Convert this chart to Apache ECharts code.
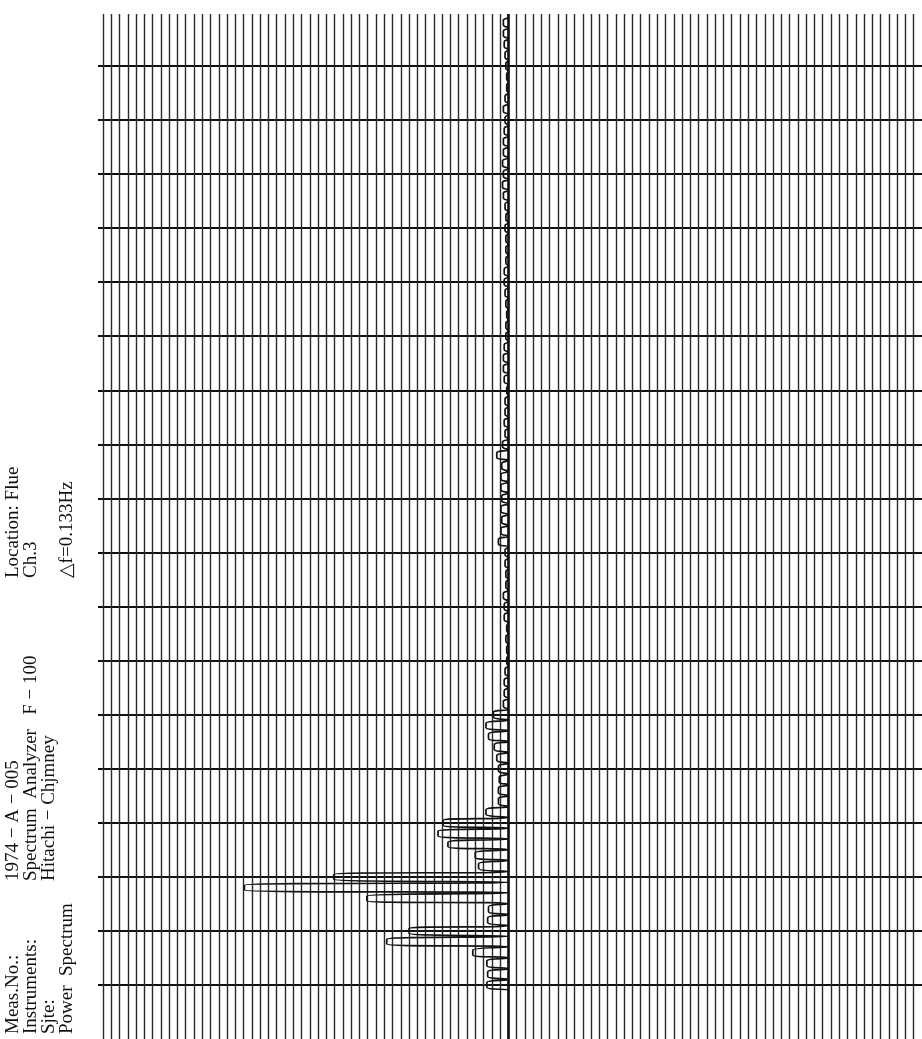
<!DOCTYPE html>
<html>
<head>
<meta charset="utf-8">
<script src="https://cdn.jsdelivr.net/npm/echarts@6/dist/echarts.min.js"></script>
<style>
  html, body { margin: 0; padding: 0; background: #ffffff; }
  #chart { width: 922px; height: 1039px; }
</style>
</head>
<body>
<div id="chart"></div>
<script>
// Spectral line number, counted upward from the lowest line on the sheet (one per Δf step)
const lineIndex = [
   0,  1,  2,  3,  4,  5,  6,  7,  8,  9,
  10, 11, 12, 13, 14, 15, 16, 17, 18, 19,
  20, 21, 22, 23, 24, 25, 26, 27, 28, 29,
  30, 31, 32, 33, 34, 35, 36, 37, 38, 39,
  40, 41, 42, 43, 44, 45, 46, 47, 48, 49,
  50, 51, 52, 53, 54, 55, 56, 57, 58, 59,
  60, 61, 62, 63, 64, 65, 66, 67, 68, 69,
  70, 71, 72, 73, 74, 75, 76, 77, 78, 79,
  80, 81, 82, 83, 84, 85, 86, 87, 88, 89
];

// Pen deflection of each spectral line, in chart divisions away from the zero line
const deflection = [
  2.6, 2.5, 2.6, 4.3, 14.7, 12.0, 2.5, 2.4, 17.1, 31.9,
  21.1, 3.6, 4.0, 7.3, 8.5, 7.9, 2.7, 1.2, 1.2, 1.1,
  1.2, 1.4, 1.7, 2.4, 2.7, 1.8, 0.6, 0.5, 0.5, 0.4,
  0.2, 0.2, 0.3, 0.2, 0.5, 0.5, 0.6, 0.3, 0.3, 0.4,
  0.4, 1.2, 0.9, 0.8, 0.9, 0.8, 0.9, 0.9, 0.8, 1.4,
  0.7, 0.4, 0.5, 0.4, 0.4, 0.2, 0.5, 0.6, 0.6, 0.5,
  0.3, 0.3, 0.2, 0.3, 0.4, 0.5, 0.5, 0.3, 0.3, 0.3,
  0.4, 0.3, 0.4, 0.6, 0.7, 0.6, 0.7, 0.6, 0.6, 0.5,
  0.4, 0.6, 0.4, 0.2, 0.2, 0.3, 0.4, 0.5, 0.6, 0.6
];

// Record stamp, written sideways along the left margin
const stampLabels = ['Meas.No.:', 'Instruments:', 'Sjte:', 'Power  Spectrum'];
const stampValues = ['1974 − A − 005', 'Spectrum  Analyzer   F − 100', 'Hitachi − Chjmney', ''];
const stampNotes  = ['Location: Flue', 'Ch.3', '', '△f=0.133Hz'];

// Sheet range, in divisions (deflection) and spectral lines (frequency)
const deflMin = -50, deflMax = 49.6;
const lineMin = -5, lineMax = 89.8;

// Pen trace: the pen swings out to each line's deflection, turns in a narrow loop
// and comes back to the zero line before the next line
const PEN_LOOP = 0.22;
const trace = [[0, -0.6], [0, -0.5]];
lineIndex.forEach(function (f, i) {
  const a = deflection[i];
  trace.push([a, f - PEN_LOOP], [a, f + PEN_LOOP], [0, f + 0.5]);
});
trace.push([0, lineMax]);

// Sideways stamp text
const colX = [13, 31, 49, 67];
const graphics = [];
function addText(str, x, yBottom) {
  if (!str) return;
  graphics.push({
    type: 'text',
    x: x,
    y: yBottom,
    rotation: Math.PI / 2,
    silent: true,
    style: {
      text: str,
      fill: '#111',
      font: '19px "Liberation Serif", "DejaVu Serif", serif',
      textAlign: 'left',
      textVerticalAlign: 'middle',
      align: 'left',
      verticalAlign: 'middle'
    }
  });
}
stampLabels.forEach(function (s, i) { addText(s, colX[i], 1034); });
stampValues.forEach(function (s, i) { addText(s, colX[i], 881); });
stampNotes.forEach(function (s, i) { addText(s, colX[i], 578); });

const chart = echarts.init(document.getElementById('chart'), null, { renderer: 'canvas' });
chart.setOption({
  animation: false,
  backgroundColor: '#ffffff',
  grid: { left: 98, top: 14, width: 830.7, height: 1055.1, containLabel: false },
  xAxis: {
    type: 'value',
    inverse: true,
    min: deflMin,
    max: deflMax,
    interval: 1,
    axisLine: { show: false },
    axisTick: { show: false },
    axisLabel: { show: false },
    splitLine: {
      show: true,
      showMinLine: false,
      showMaxLine: false,
      lineStyle: { color: '#2a2a2a', width: 1.4 }
    }
  },
  yAxis: {
    type: 'value',
    min: lineMin,
    max: lineMax,
    interval: 5,
    axisLine: { show: false },
    axisTick: { show: false },
    axisLabel: { show: false },
    splitLine: {
      show: true,
      showMinLine: false,
      showMaxLine: false,
      lineStyle: { color: '#111', width: 2.2 }
    }
  },
  graphic: { elements: graphics },
  series: [{
    type: 'line',
    data: trace,
    showSymbol: false,
    smooth: 0.5,
    clip: true,
    lineStyle: { color: '#111', width: 1.7 },
    markLine: {
      silent: true,
      symbol: 'none',
      label: { show: false },
      lineStyle: { color: '#111', width: 2.6, type: 'solid' },
      data: [{ xAxis: 0 }]
    }
  }]
});
</script>
</body>
</html>
